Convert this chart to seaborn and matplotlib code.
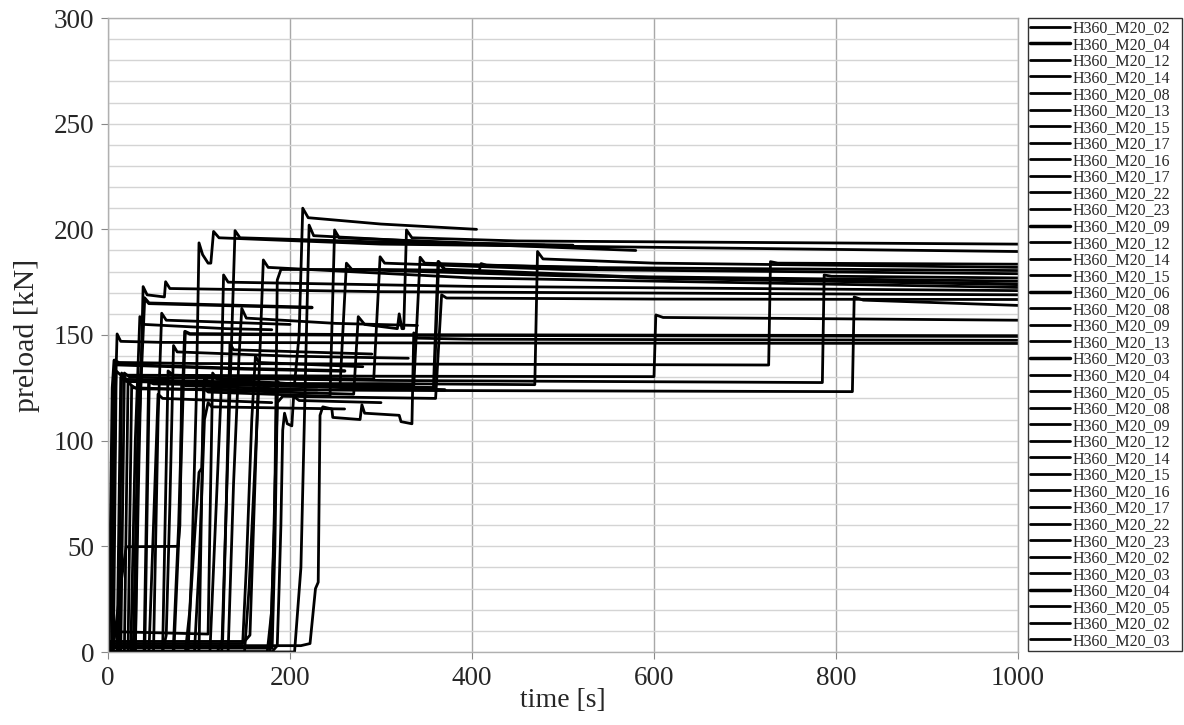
import matplotlib
matplotlib.use("Agg")
import matplotlib.pyplot as plt
import seaborn as sns
from matplotlib.ticker import MultipleLocator

labels = ["H360_M20_02", "H360_M20_04", "H360_M20_12", "H360_M20_14", "H360_M20_08",
          "H360_M20_13", "H360_M20_15", "H360_M20_17", "H360_M20_16", "H360_M20_17",
          "H360_M20_22", "H360_M20_23", "H360_M20_09", "H360_M20_12", "H360_M20_14",
          "H360_M20_15", "H360_M20_06", "H360_M20_08", "H360_M20_09", "H360_M20_13",
          "H360_M20_03", "H360_M20_04", "H360_M20_05", "H360_M20_08", "H360_M20_09",
          "H360_M20_12", "H360_M20_14", "H360_M20_15", "H360_M20_16", "H360_M20_17",
          "H360_M20_22", "H360_M20_23", "H360_M20_02", "H360_M20_03", "H360_M20_04",
          "H360_M20_05", "H360_M20_02", "H360_M20_03"]

# time [s] / preload [kN] for each test
t01 = [0, 5, 8, 10, 14, 60, 400, 1000]
p01 = [0, 0, 120, 150.5, 147, 146.5, 146.2, 146]
t02 = [0, 1, 3, 5, 7, 10, 150, 260]
p02 = [0, 5, 60, 125, 138, 136, 134, 133]
t03 = [0, 4, 7, 12, 100, 726, 728, 736, 1000]
p03 = [0, 0, 138, 137, 136.5, 135.8, 184.7, 184, 183.5]
t04 = [0, 4, 8, 110, 112, 115, 120, 200]
p04 = [0, 0, 9.6, 8.5, 60, 132, 129, 127]
t05 = [0, 6, 9, 14, 300, 600, 602, 610, 1000]
p05 = [0, 0, 133, 131, 130.5, 130.3, 159.5, 158.3, 157]
t06 = [0, 5, 8, 15, 20, 77, 79, 81, 85, 230]
p06 = [0, 0, 10, 35, 49.8, 50, 60, 128, 126, 124]
t07 = [0, 10, 14, 20, 255, 262, 268, 500, 1000]
p07 = [0, 0, 130, 128, 126, 184, 181, 178, 175.5]
t08 = [0, 12, 15, 20, 205, 210, 214, 220, 300, 405]
p08 = [0, 0, 132, 129, 127, 150, 210, 205.5, 202.5, 200]
t09 = [0, 14, 18, 24, 300, 785, 787, 795, 1000]
p09 = [0, 0, 132, 130, 128.5, 127.5, 178.4, 177.8, 177]
t10 = [0, 18, 22, 28, 270, 275, 282, 318, 320, 323, 325, 328, 334, 450, 1000]
p10 = [0, 0, 128, 125, 122, 158.7, 155, 153, 160, 153, 153, 199.7, 196, 194.5, 193]
t11 = [0, 22, 26, 32, 300, 818, 820, 830, 1000]
p11 = [0, 0, 126, 124.5, 123.8, 123.2, 168, 166.5, 164]
t12 = [0, 25, 30, 35, 40, 130, 180]
p12 = [0, 0, 100, 158.7, 155, 153, 152.5]
t13 = [0, 28, 33, 40, 45, 224]
p13 = [0, 0, 100, 167.5, 165, 163]
t14 = [0, 30, 34, 38.6, 43, 62, 63.3, 68, 300, 1000]
p14 = [0, 0, 90, 172.9, 169, 168, 175.2, 172, 170.5, 169]
t15 = [0, 30, 34, 40, 336, 343, 348, 500, 1000]
p15 = [0, 0, 130, 128, 126, 186.8, 184, 182, 180.5]
t16 = [0, 45, 50, 55, 60, 180]
p16 = [0, 0, 60, 122, 120, 118]
t17 = [0, 40, 45, 50, 358, 363, 370, 600, 1000]
p17 = [0, 0, 128, 127, 125, 184.7, 181, 177, 174]
t18 = [0, 50, 55, 59, 64, 200]
p18 = [0, 0, 110, 160.3, 157, 155]
t19 = [0, 60, 66, 72, 292, 299, 304, 500, 1000]
p19 = [0, 0, 133, 131, 129, 187, 184, 181, 179]
t20 = [0, 60, 64, 68, 72, 76, 200, 330]
p20 = [0, 0, 8, 70, 145, 142, 140, 139]
t21 = [0, 72, 78, 82, 84.6, 90, 300, 1000]
p21 = [0, 0, 60, 120, 151.6, 150.5, 150, 149.5]
t22 = [0, 85, 90, 96, 100, 103, 106, 110, 210]
p22 = [0, 0, 20, 60, 85, 87, 130, 128, 126]
t23 = [0, 88, 92, 97, 100, 104, 110, 113, 116, 122, 300, 1000]
p23 = [0, 0, 40, 120, 193.6, 188, 184, 184, 199, 196, 193, 189.5]
t24 = [0, 95, 100, 106, 110, 114, 260]
p24 = [0, 0, 40, 110, 118, 116, 115]
t25 = [0, 2, 150, 156, 165, 172, 300, 469, 472, 478, 600, 1000]
p25 = [0, 5, 5, 8, 126, 127, 127, 126.5, 189.5, 186, 184, 182]
t26 = [0, 120, 126, 130, 134, 138, 290]
p26 = [0, 0, 6, 70, 146, 143, 141]
t27 = [0, 112, 118, 124, 127, 132, 400, 1000]
p27 = [0, 0, 60, 120, 178.4, 175, 173, 171]
t28 = [0, 132, 138, 144, 147, 152, 250, 340]
p28 = [0, 0, 80, 140, 162.6, 158, 155.5, 154.5]
t29 = [0, 125, 130, 136, 139.6, 145, 300, 511]
p29 = [0, 0, 70, 150, 199.4, 196, 194, 192.5]
t30 = [0, 150, 155, 165, 170.7, 176, 400, 1000]
p30 = [0, 0, 30, 120, 185.5, 182, 177, 172.5]
t31 = [0, 2, 140, 148, 152, 158, 162, 166, 280]
p31 = [0, 4, 4, 4, 40, 110, 140, 137, 135]
t32 = [0, 178, 183, 186, 190, 300, 408, 410, 416, 537]
p32 = [0, 0, 60, 176, 181, 181, 180.5, 183.8, 183, 182]
t33 = [0, 180, 186, 188, 190, 192, 194, 197, 202, 204, 210, 300]
p33 = [0, 0, 3, 30, 60, 105, 113, 108, 107, 121, 119, 118]
t34 = [0, 175, 180, 186, 192, 360, 366.6, 372, 600, 1000]
p34 = [0, 0, 20, 118, 121, 120, 169, 167.5, 167, 166.8]
t35 = [0, 2, 175, 180, 183, 186, 190, 370]
p35 = [0, 2, 2, 2, 50, 128, 126, 124]
t36 = [0, 205, 212, 218, 221, 226, 400, 580]
p36 = [0, 0, 40, 150, 202, 197, 193, 190]
t37 = [0, 100, 105, 110, 244, 249, 254, 400, 480]
p37 = [0, 0, 125, 123, 121, 199.7, 196, 193.5, 192.5]
t38 = [0, 3, 212, 222, 228, 231, 233, 236, 246, 247, 277, 279, 282, 320, 322, 334, 336, 340, 400, 1000]
p38 = [0, 3, 3, 4, 30, 33, 112, 116, 115, 111, 110, 117, 113, 112, 109, 108, 151, 148.5, 148, 147.5]

times = [t01, t02, t03, t04, t05, t06, t07, t08, t09, t10, t11, t12, t13, t14, t15, t16, t17, t18, t19,
         t20, t21, t22, t23, t24, t25, t26, t27, t28, t29, t30, t31, t32, t33, t34, t35, t36, t37, t38]
loads = [p01, p02, p03, p04, p05, p06, p07, p08, p09, p10, p11, p12, p13, p14, p15, p16, p17, p18, p19,
         p20, p21, p22, p23, p24, p25, p26, p27, p28, p29, p30, p31, p32, p33, p34, p35, p36, p37, p38]
thick = {1, 12, 16, 20, 34}

sns.set_style("white")
plt.rcParams["font.family"] = ["Liberation Serif", "DejaVu Serif"]

fig = plt.figure(figsize=(11.84, 7.25), dpi=100)
ax_bottom = 1 - 652 / 725
ax_height = 634 / 725
ax = fig.add_axes([108 / 1184, ax_bottom, 910 / 1184, ax_height])

for i, (t, p, lab) in enumerate(zip(times, loads, labels)):
    sns.lineplot(x=t, y=p, ax=ax, color="black", lw=2.5 if i in thick else 2.0,
                 label=lab, sort=False, estimator=None)

ax.set_xlim(0, 1000)
ax.set_ylim(0, 300)
ax.xaxis.set_major_locator(MultipleLocator(200))
ax.yaxis.set_major_locator(MultipleLocator(50))
ax.yaxis.set_minor_locator(MultipleLocator(10))
ax.set_axisbelow(True)
ax.grid(True, axis="x", which="major", color="#a8a8a8", lw=1.0)
ax.grid(True, axis="y", which="both", color="#d4d4d4", lw=1.0)
for s in ax.spines.values():
    s.set_color("#b0b0b0")
    s.set_linewidth(1.0)
ax.tick_params(axis="both", which="major", labelsize=19.5, length=5, color="#888888",
               direction="out", bottom=True, left=True, pad=5)
ax.tick_params(axis="y", which="minor", length=0)
ax.set_xlabel("time [s]", fontsize=20, labelpad=-2)
ax.set_ylabel("preload [kN]", fontsize=21.5, labelpad=10)

leg = ax.legend(loc="upper left", bbox_to_anchor=(1028 / 1184, ax_bottom, 154 / 1184, ax_height),
                bbox_transform=fig.transFigure, mode="expand", fontsize=11.5, labelspacing=0.035,
                handlelength=2.5, handletextpad=0.15, borderpad=0.15, borderaxespad=0,
                frameon=True, fancybox=False, edgecolor="black")
leg.get_frame().set_linewidth(1.0)

fig.savefig("out.png", dpi=100)
